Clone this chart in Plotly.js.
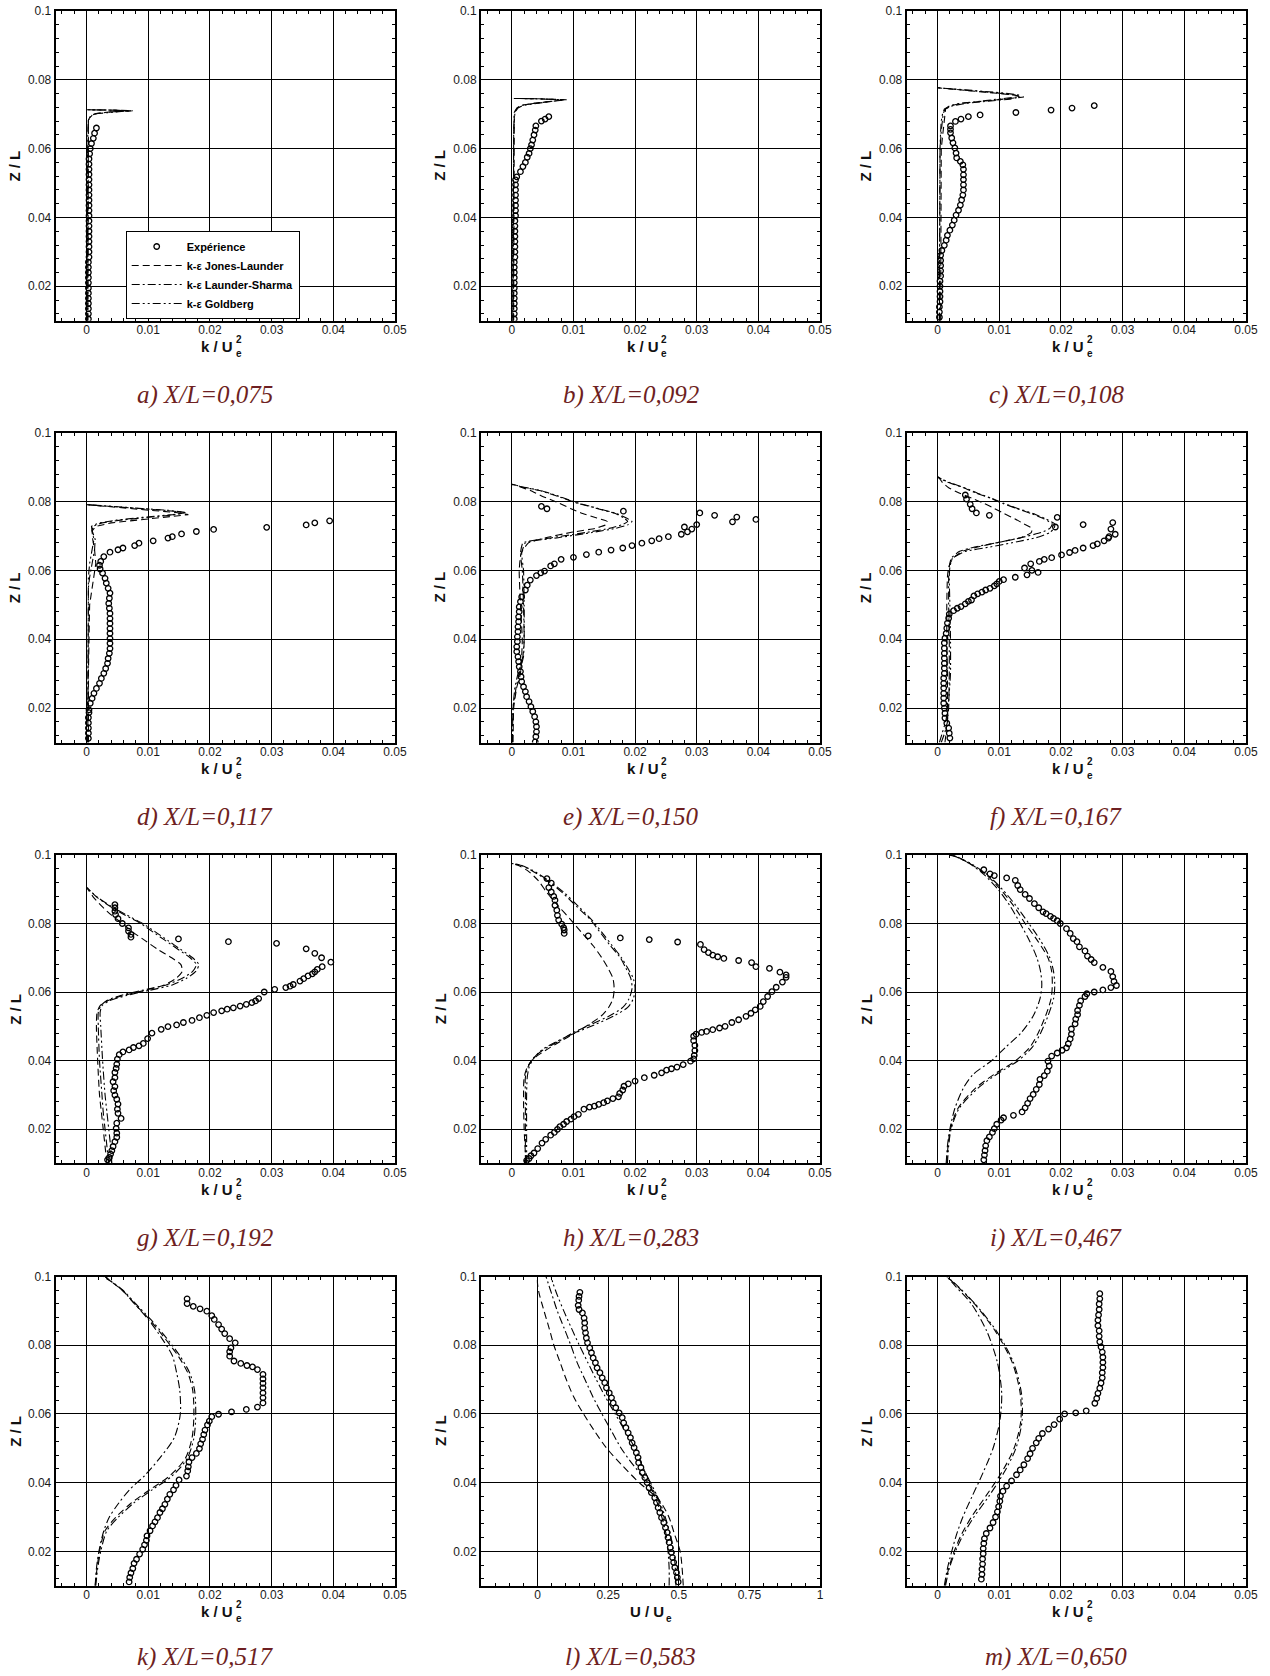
<!DOCTYPE html>
<html><head><meta charset="utf-8">
<script src="https://cdn.plot.ly/plotly-3.0.1.min.js"></script>
<style>html,body{margin:0;padding:0;background:#fff;}#chart{width:1270px;height:1676px;}</style>
</head><body><div id="chart"></div>
<script>
// ---------------- DATA ----------------
// Panel a  X/L=0,075
const zExpA=[0.0105,0.012,0.0135,0.015,0.0165,0.018,0.0195,0.021,0.0225,0.024,0.0255,0.027,0.0285,0.030,0.0315,0.033,0.0345,0.036,0.0375,0.039,0.0405,0.042,0.0435,0.045,0.0465,0.048,0.0495,0.051,0.0525,0.054,0.0555,0.057,0.0585,0.060,0.0615,0.063,0.0645,0.066];
const kExpA=[0.0003,0.0003,0.0003,0.0003,0.0003,0.0003,0.0003,0.0003,0.0003,0.0003,0.0003,0.0003,0.0004,0.0004,0.0004,0.0004,0.0004,0.0004,0.0004,0.0004,0.0004,0.0004,0.0004,0.0004,0.0004,0.0004,0.0004,0.0004,0.0004,0.0004,0.0004,0.0004,0.0005,0.0006,0.0008,0.0011,0.0013,0.0016];
const zModA=[0.01,0.03,0.05,0.065,0.0683,0.0697,0.0702,0.0707,0.0710,0.0712,0.0713];
const kJLA=[0.0002,0.0002,0.0002,0.0002,0.0003,0.0007,0.0015,0.004,0.0075,0.004,0];
const kLSA=[0.0002,0.0002,0.0002,0.0002,0.0003,0.0008,0.0016,0.0042,0.0072,0.004,0];
const kGBA=[0.0001,0.0001,0.0001,0.0002,0.0003,0.0009,0.0018,0.0045,0.0070,0.0035,0];

// Panel b  X/L=0,092
const zExpB=[0.0105,0.012,0.0135,0.015,0.0165,0.018,0.0195,0.021,0.0225,0.024,0.0255,0.027,0.0285,0.030,0.0315,0.033,0.0345,0.036,0.0375,0.039,0.0405,0.042,0.0435,0.045,0.0465,0.048,0.0495,0.0509,0.0518,0.0533,0.0548,0.056,0.0575,0.0586,0.060,0.0611,0.0625,0.064,0.0654,0.0666,0.068,0.0686,0.0693];
const kExpB=[0.0004,0.0004,0.0004,0.0004,0.0004,0.0004,0.0004,0.0004,0.0004,0.0004,0.0004,0.0004,0.0005,0.0005,0.0005,0.0005,0.0005,0.0005,0.0005,0.0005,0.0006,0.0006,0.0006,0.0006,0.0006,0.0006,0.0006,0.0006,0.0008,0.0014,0.0018,0.0022,0.0025,0.0028,0.003,0.0032,0.0034,0.0036,0.0038,0.0039,0.0048,0.0054,0.006];
const zModB=[0.01,0.03,0.05,0.065,0.0705,0.0718,0.0726,0.0733,0.0738,0.0742,0.0745,0.0746];
const kJLB=[0.0003,0.0003,0.0003,0.0003,0.0004,0.0008,0.0015,0.004,0.007,0.0089,0.004,0];
const kLSB=[0.0002,0.0002,0.0002,0.0003,0.0004,0.0009,0.0017,0.0042,0.0068,0.0085,0.004,0];
const kGBB=[0.0002,0.0002,0.0002,0.0003,0.0005,0.001,0.0019,0.0044,0.0066,0.0082,0.0035,0];

// Panel c  X/L=0,108
const zExpC=[0.011,0.0125,0.014,0.0155,0.017,0.0185,0.02,0.0215,0.023,0.0245,0.026,0.0275,0.029,0.0304,0.0319,0.0334,0.0348,0.0363,0.0378,0.0392,0.0407,0.0421,0.0436,0.0451,0.0465,0.048,0.0495,0.051,0.0524,0.054,0.0553,0.0563,0.0573,0.0587,0.0602,0.0617,0.0631,0.0646,0.0656,0.0666,0.0679,0.0686,0.0693,0.0698,0.0705,0.0712,0.0718,0.0725];
const kExpC=[0.0003,0.0003,0.0003,0.0004,0.0004,0.0004,0.0004,0.0004,0.0005,0.0005,0.0005,0.0005,0.0005,0.0007,0.0011,0.0014,0.0016,0.002,0.0024,0.0027,0.003,0.0034,0.0037,0.0039,0.0041,0.0042,0.0042,0.0042,0.0042,0.0042,0.0041,0.0037,0.0031,0.003,0.0028,0.0025,0.0023,0.0021,0.0021,0.0021,0.0029,0.0038,0.005,0.0069,0.0127,0.0184,0.0218,0.0254];
const zModC=[0.01,0.03,0.05,0.06,0.065,0.068,0.070,0.0715,0.0725,0.0732,0.0738,0.0744,0.0750,0.0756,0.0762,0.0768,0.0772,0.0775,0.0777];
const kJLC=[0.0005,0.0005,0.0005,0.0006,0.0009,0.0011,0.0012,0.0013,0.0022,0.004,0.0075,0.011,0.014,0.0125,0.009,0.0055,0.003,0.001,0];
const kLSC=[0.0003,0.0003,0.0003,0.0004,0.0006,0.0008,0.0009,0.0012,0.0025,0.0048,0.0085,0.0118,0.0133,0.0125,0.0095,0.006,0.0035,0.0012,0];
const kGBC=[0.0003,0.0003,0.0003,0.0004,0.0005,0.0006,0.0008,0.0011,0.002,0.0038,0.007,0.0105,0.0128,0.0132,0.0105,0.0065,0.0038,0.0013,0];

// Panel d  X/L=0,117
const zExpD=[0.0112,0.0127,0.0142,0.0157,0.0172,0.0187,0.0195,0.0214,0.0228,0.0243,0.0257,0.0272,0.0286,0.0301,0.0315,0.033,0.0344,0.0359,0.0373,0.0388,0.0402,0.0417,0.0431,0.0446,0.046,0.0475,0.049,0.0504,0.0519,0.0534,0.0548,0.0563,0.0577,0.0592,0.0604,0.0615,0.0626,0.064,0.0653,0.066,0.0665,0.0672,0.0679,0.0686,0.0694,0.0698,0.0706,0.0713,0.0719,0.0725,0.0732,0.0738,0.0744];
const kExpD=[0.0003,0.0003,0.0003,0.0003,0.0003,0.0004,0.0004,0.0006,0.0009,0.0012,0.0016,0.0021,0.0024,0.0028,0.0031,0.0034,0.0035,0.0037,0.0038,0.0038,0.0038,0.0038,0.0038,0.0038,0.0038,0.0038,0.0037,0.0036,0.0037,0.0038,0.0035,0.0032,0.0030,0.0026,0.0022,0.0021,0.0023,0.0028,0.0038,0.0051,0.0059,0.0078,0.0085,0.0108,0.0132,0.0139,0.0154,0.0178,0.0206,0.0292,0.0356,0.037,0.0394];
const zModD=[0.01,0.03,0.05,0.055,0.058,0.062,0.066,0.069,0.0715,0.0728,0.0738,0.0746,0.0754,0.0762,0.0768,0.0774,0.078,0.0786,0.0789,0.0791];
const kJLD=[0.0003,0.0003,0.0005,0.0009,0.0012,0.0015,0.0013,0.001,0.0009,0.0015,0.004,0.008,0.0125,0.0165,0.0145,0.011,0.0075,0.0035,0.0012,0];
const kLSD=[0.0002,0.0002,0.0003,0.0003,0.0005,0.0009,0.0013,0.0014,0.0009,0.001,0.0025,0.0055,0.01,0.0145,0.016,0.013,0.0085,0.004,0.0013,0];
const kGBD=[0.0002,0.0002,0.0002,0.0003,0.0003,0.0005,0.0009,0.0012,0.0009,0.0008,0.002,0.0048,0.009,0.014,0.0162,0.0135,0.009,0.0042,0.0014,0];

// Panel e  X/L=0,150
const zExpE=[0.0102,0.0117,0.0131,0.0146,0.016,0.0175,0.019,0.0204,0.0219,0.0233,0.0248,0.0262,0.0277,0.0291,0.0306,0.032,0.0335,0.0349,0.0364,0.0378,0.0393,0.0407,0.0422,0.0436,0.0451,0.0465,0.048,0.0494,0.0509,0.0523,0.0543,0.0557,0.0572,0.0585,0.0593,0.0598,0.0613,0.0619,0.0632,0.0638,0.0646,0.0653,0.0659,0.0665,0.0672,0.0679,0.0686,0.0692,0.0698,0.0705,0.0712,0.072,0.0726,0.0733,0.0741,0.0748,0.0755,0.076,0.0767,0.0772,0.0779,0.0786];
const kExpE=[0.0038,0.0039,0.004,0.004,0.0039,0.0037,0.0034,0.0031,0.0028,0.0024,0.0022,0.0019,0.0016,0.0015,0.0014,0.0012,0.0011,0.001,0.0008,0.0008,0.0009,0.0009,0.001,0.001,0.0011,0.0011,0.0012,0.0012,0.0014,0.0016,0.0022,0.0025,0.003,0.004,0.0047,0.0053,0.0063,0.0069,0.008,0.01,0.0121,0.0141,0.0161,0.018,0.0195,0.0211,0.0227,0.0239,0.0254,0.0275,0.0285,0.0292,0.028,0.03,0.0358,0.0396,0.0365,0.0329,0.0305,0.0181,0.0057,0.0048];
const zModE=[0.01,0.02,0.026,0.03,0.035,0.04,0.05,0.06,0.065,0.068,0.0695,0.071,0.0722,0.0732,0.0742,0.0752,0.0765,0.078,0.0797,0.0815,0.0832,0.0843,0.0849,0.085];
const kJLE=[0.0002,0.0003,0.0008,0.0014,0.0016,0.0017,0.0014,0.0012,0.0015,0.0027,0.0055,0.0095,0.0135,0.0152,0.0155,0.0138,0.0115,0.0095,0.0075,0.005,0.003,0.0013,0.0004,0];
const kLSE=[0.0001,0.0002,0.0007,0.0012,0.0019,0.002,0.0019,0.0017,0.0014,0.0018,0.0065,0.012,0.0158,0.0178,0.0188,0.0182,0.0168,0.0138,0.0103,0.0075,0.0045,0.0015,0.0004,0];
const kGBE=[0.0001,0.0002,0.0005,0.001,0.0018,0.002,0.002,0.0019,0.0016,0.0022,0.0075,0.013,0.0168,0.0188,0.0195,0.0186,0.017,0.014,0.0105,0.0077,0.0047,0.0016,0.0004,0];

// Panel f  X/L=0,167
const zExpF=[0.0113,0.0127,0.0142,0.0156,0.0171,0.0185,0.02,0.0214,0.0229,0.0243,0.0258,0.0272,0.0287,0.0301,0.0316,0.033,0.0345,0.0359,0.0374,0.0389,0.0403,0.0417,0.0432,0.0447,0.0461,0.0473,0.0483,0.049,0.0495,0.0503,0.051,0.0514,0.0526,0.0532,0.0537,0.0543,0.0548,0.0555,0.0561,0.0568,0.0573,0.058,0.0587,0.0594,0.06,0.0607,0.0619,0.0626,0.0632,0.0637,0.0645,0.0652,0.0658,0.0665,0.0672,0.0677,0.0686,0.0694,0.0698,0.0705,0.072,0.0726,0.0733,0.0739,0.0754,0.076,0.0767,0.0779,0.0792,0.0807,0.0819];
const kExpF=[0.002,0.0019,0.0018,0.0015,0.0012,0.0012,0.0011,0.001,0.001,0.001,0.001,0.001,0.001,0.0011,0.0011,0.0011,0.0011,0.0011,0.0011,0.0011,0.0012,0.0014,0.0015,0.0016,0.0018,0.0019,0.0026,0.0032,0.0038,0.0045,0.005,0.0055,0.0059,0.0065,0.0072,0.0078,0.0085,0.0092,0.0096,0.01,0.0107,0.0126,0.0145,0.0163,0.0153,0.0141,0.0151,0.0165,0.0173,0.0185,0.0201,0.0214,0.0223,0.0236,0.0252,0.0259,0.027,0.0277,0.0278,0.0288,0.0281,0.0191,0.0236,0.0284,0.0194,0.0084,0.0063,0.0056,0.0053,0.0047,0.0045];
const zModF=[0.01,0.013,0.016,0.02,0.03,0.04,0.05,0.058,0.061,0.0635,0.0655,0.0668,0.068,0.0695,0.071,0.0722,0.0735,0.075,0.0765,0.078,0.0795,0.081,0.0825,0.084,0.0855,0.0865,0.087,0.0872];
const kJLF=[0.0012,0.0014,0.0015,0.0016,0.0016,0.0015,0.0015,0.0016,0.0018,0.0025,0.004,0.0065,0.0095,0.0135,0.0152,0.0153,0.014,0.0125,0.0108,0.0092,0.0075,0.0055,0.0035,0.0018,0.0008,0.0004,0.0001,0];
const kLSF=[0.0006,0.0012,0.0016,0.0018,0.0019,0.0019,0.0018,0.0018,0.0019,0.0022,0.0035,0.006,0.0095,0.0135,0.0168,0.0182,0.0186,0.0172,0.0152,0.0128,0.0105,0.0085,0.0062,0.0042,0.0018,0.0006,0.0002,0];
const kGBF=[0.0003,0.0008,0.0013,0.0017,0.0021,0.0021,0.002,0.0019,0.002,0.0024,0.0045,0.0085,0.012,0.016,0.0182,0.0189,0.019,0.0175,0.0155,0.013,0.0107,0.0087,0.0064,0.0044,0.002,0.0007,0.0002,0];

// Panel g  X/L=0,192
const zExpG=[0.011,0.0117,0.0127,0.0137,0.0149,0.0163,0.0176,0.0188,0.0202,0.0217,0.0231,0.0246,0.0258,0.0273,0.0287,0.0299,0.0312,0.0324,0.0338,0.035,0.0365,0.0377,0.0389,0.0404,0.0417,0.0425,0.0431,0.0438,0.0443,0.045,0.0464,0.048,0.0491,0.0499,0.0504,0.0511,0.0517,0.0525,0.0532,0.054,0.0545,0.055,0.0554,0.0559,0.0564,0.0569,0.0574,0.0581,0.06,0.0608,0.0613,0.0617,0.0622,0.0632,0.0639,0.0647,0.0653,0.0659,0.0666,0.0674,0.0687,0.07,0.0713,0.0726,0.0742,0.0747,0.0755,0.076,0.0768,0.0778,0.0787,0.08,0.0814,0.0826,0.0836,0.0846,0.0855];
const kExpG=[0.0034,0.0037,0.0039,0.0041,0.0043,0.0046,0.0049,0.0049,0.0048,0.0049,0.0056,0.0051,0.005,0.0051,0.0049,0.0046,0.0044,0.0046,0.0043,0.0046,0.0046,0.0048,0.0049,0.005,0.0053,0.0059,0.0069,0.0076,0.0085,0.0092,0.0099,0.0106,0.0121,0.0132,0.0146,0.0157,0.0171,0.0183,0.0195,0.0206,0.0219,0.0228,0.0238,0.0249,0.0259,0.0268,0.0274,0.0279,0.0288,0.0305,0.0323,0.033,0.0335,0.0346,0.0352,0.0359,0.0366,0.037,0.0374,0.0382,0.0396,0.0381,0.037,0.0356,0.0308,0.023,0.0149,0.0072,0.0072,0.0068,0.0068,0.0058,0.0051,0.0047,0.0046,0.0046,0.0046];
const zModG=[0.01,0.015,0.02,0.025,0.03,0.04,0.05,0.054,0.056,0.0575,0.059,0.0605,0.062,0.064,0.066,0.068,0.07,0.0725,0.075,0.0775,0.08,0.0825,0.085,0.0875,0.0895,0.0903,0.0905];
const kJLG=[0.0033,0.003,0.0027,0.0024,0.0021,0.0018,0.0016,0.0017,0.0022,0.0035,0.006,0.0095,0.0125,0.0145,0.0155,0.0153,0.0138,0.0115,0.0095,0.0075,0.0058,0.004,0.0025,0.0012,0.0004,0.0001,0];
const kLSG=[0.0036,0.0033,0.003,0.0027,0.0025,0.0021,0.0019,0.0019,0.0023,0.0033,0.0055,0.009,0.0128,0.0155,0.0172,0.0178,0.0168,0.0148,0.0128,0.0108,0.0088,0.0062,0.0038,0.0018,0.0006,0.0002,0];
const kGBG=[0.0041,0.0039,0.0036,0.0033,0.003,0.0026,0.0023,0.0022,0.0025,0.0038,0.0065,0.0102,0.0138,0.0162,0.0177,0.0182,0.0172,0.0152,0.0132,0.0112,0.0091,0.0065,0.004,0.0019,0.0006,0.0002,0];

// Panel h  X/L=0,283
const zExpH=[0.0108,0.0114,0.0122,0.013,0.0143,0.0159,0.017,0.0182,0.019,0.0199,0.0207,0.0214,0.0222,0.0229,0.0236,0.0243,0.0258,0.0264,0.0267,0.0272,0.0277,0.0282,0.0289,0.0294,0.0304,0.0314,0.0325,0.0332,0.034,0.035,0.0357,0.0364,0.0372,0.0376,0.0381,0.0388,0.0398,0.0405,0.0415,0.0429,0.0444,0.0458,0.0471,0.0477,0.0482,0.0485,0.049,0.0495,0.05,0.0511,0.0519,0.0529,0.0538,0.0548,0.0558,0.0572,0.0587,0.0601,0.0614,0.0629,0.0643,0.065,0.0658,0.0669,0.0674,0.0686,0.0692,0.0698,0.0703,0.0708,0.0715,0.0724,0.0739,0.0746,0.0753,0.0758,0.0764,0.0771,0.0781,0.0788,0.0798,0.081,0.0824,0.0839,0.0853,0.0868,0.0879,0.0892,0.0905,0.0918,0.0931];
const kExpH=[0.0024,0.0028,0.0031,0.0036,0.0042,0.0049,0.0055,0.0063,0.0069,0.0074,0.0078,0.0084,0.0089,0.0096,0.0101,0.0108,0.0117,0.0126,0.0134,0.0141,0.0149,0.0155,0.0164,0.0173,0.0175,0.018,0.0182,0.0189,0.02,0.0215,0.0231,0.0243,0.0251,0.0259,0.0268,0.0278,0.029,0.0295,0.0296,0.0297,0.0297,0.0295,0.0295,0.0299,0.0308,0.0316,0.0326,0.0337,0.0346,0.0357,0.0368,0.038,0.0388,0.0395,0.0403,0.0408,0.0415,0.0422,0.0429,0.0439,0.0445,0.0445,0.0435,0.0418,0.0396,0.0389,0.0368,0.0344,0.0334,0.0326,0.0319,0.0312,0.0306,0.0269,0.0223,0.0176,0.0124,0.0085,0.0085,0.0084,0.0081,0.0076,0.0074,0.0073,0.007,0.007,0.0068,0.0064,0.006,0.0064,0.0057];
const zModH=[0.01,0.02,0.03,0.035,0.038,0.0405,0.043,0.0455,0.048,0.0505,0.053,0.0555,0.058,0.061,0.064,0.067,0.07,0.0735,0.077,0.081,0.085,0.089,0.0925,0.0955,0.097,0.0975];
const kJLH=[0.0023,0.002,0.0019,0.002,0.0025,0.0035,0.0055,0.0078,0.0102,0.0125,0.0145,0.0157,0.0164,0.0166,0.0164,0.0156,0.0146,0.0132,0.0115,0.0096,0.0076,0.0057,0.0043,0.0025,0.001,0];
const kLSH=[0.0022,0.0022,0.0022,0.0022,0.0026,0.0034,0.005,0.0075,0.0098,0.0128,0.0158,0.018,0.019,0.0195,0.0193,0.0185,0.0176,0.016,0.0145,0.0128,0.0105,0.0082,0.0058,0.0032,0.0014,0];
const kGBH=[0.0024,0.0024,0.0024,0.0025,0.0028,0.0035,0.0048,0.0072,0.0102,0.0135,0.0165,0.0188,0.0197,0.02,0.0197,0.0188,0.0178,0.0163,0.0148,0.013,0.0108,0.0085,0.006,0.0034,0.0015,0];

// Panel i  X/L=0,467
const zExpI=[0.011,0.0124,0.0137,0.0151,0.0166,0.0177,0.019,0.0201,0.0214,0.0226,0.0233,0.024,0.025,0.0262,0.0275,0.0289,0.0301,0.0316,0.033,0.0345,0.0356,0.0369,0.0384,0.0398,0.0413,0.0422,0.043,0.0437,0.0449,0.0463,0.0477,0.0492,0.0507,0.0521,0.0534,0.0546,0.0561,0.0574,0.0587,0.0595,0.06,0.0606,0.0613,0.0619,0.0631,0.0645,0.066,0.0672,0.0686,0.0695,0.0705,0.072,0.0732,0.0747,0.0756,0.0771,0.0785,0.08,0.0808,0.0815,0.0821,0.0829,0.0834,0.0846,0.0858,0.0873,0.0885,0.0899,0.0911,0.0926,0.0933,0.094,0.0945,0.0957];
const kExpI=[0.0075,0.0076,0.0077,0.0078,0.008,0.0084,0.0089,0.0092,0.0096,0.0103,0.0107,0.0123,0.0137,0.0142,0.0146,0.015,0.0155,0.016,0.0165,0.0166,0.0173,0.0178,0.0181,0.0179,0.0185,0.0194,0.0202,0.0209,0.0212,0.0215,0.0217,0.0217,0.0223,0.0224,0.0227,0.0227,0.023,0.0232,0.0239,0.0242,0.0254,0.0268,0.0281,0.029,0.0286,0.0284,0.0281,0.0268,0.0254,0.0249,0.0243,0.0239,0.023,0.0226,0.022,0.0215,0.0209,0.0199,0.0194,0.0188,0.0183,0.0176,0.0171,0.0164,0.0157,0.0149,0.0142,0.0134,0.013,0.0126,0.0112,0.0092,0.0085,0.0075];
const zModI=[0.01,0.015,0.02,0.026,0.032,0.036,0.04,0.044,0.048,0.053,0.058,0.062,0.066,0.07,0.075,0.08,0.085,0.09,0.0945,0.0975,0.0995,0.1];
const kJLI=[0.0015,0.0017,0.0021,0.0033,0.0062,0.0092,0.0127,0.015,0.0163,0.0175,0.0184,0.0186,0.0185,0.0179,0.0162,0.0142,0.0124,0.0102,0.0077,0.0052,0.003,0.0018];
const kLSI=[0.0014,0.0016,0.002,0.0028,0.0042,0.0058,0.0088,0.0111,0.0135,0.0155,0.0166,0.0169,0.0167,0.0161,0.0149,0.0134,0.0118,0.0098,0.0074,0.0052,0.003,0.002];
const kGBI=[0.0016,0.0018,0.0022,0.0035,0.0066,0.0096,0.0131,0.0154,0.0167,0.0179,0.0188,0.019,0.0188,0.0182,0.0167,0.0148,0.0128,0.0105,0.0079,0.0054,0.0031,0.002];

// Panel k  X/L=0,517
const zExpK=[0.0111,0.0124,0.0137,0.015,0.0165,0.0177,0.0192,0.0206,0.0219,0.0232,0.0245,0.026,0.0274,0.0286,0.0298,0.0313,0.0324,0.0337,0.0352,0.0366,0.0379,0.0392,0.0408,0.0419,0.0434,0.0446,0.046,0.0473,0.0485,0.0499,0.0513,0.0526,0.054,0.0553,0.0568,0.0579,0.0592,0.0599,0.0606,0.0613,0.062,0.0632,0.0647,0.0661,0.0676,0.0689,0.0702,0.0715,0.0729,0.0737,0.0741,0.0747,0.0754,0.0768,0.0781,0.0792,0.0807,0.0819,0.0834,0.0847,0.086,0.0875,0.0886,0.0899,0.0906,0.0913,0.0921,0.0935];
const kExpK=[0.0069,0.007,0.0072,0.0075,0.0077,0.0081,0.0086,0.0091,0.0094,0.0097,0.0098,0.0103,0.0107,0.0111,0.0115,0.0119,0.0123,0.0127,0.0131,0.0135,0.0141,0.0145,0.015,0.0162,0.0164,0.0165,0.0166,0.0171,0.0178,0.0183,0.0185,0.0188,0.019,0.0192,0.0196,0.0199,0.0203,0.0214,0.0235,0.0259,0.0277,0.0286,0.0286,0.0286,0.0286,0.0286,0.0286,0.0286,0.0277,0.0269,0.026,0.025,0.0239,0.0232,0.0232,0.0234,0.0241,0.0232,0.0224,0.0219,0.0214,0.0207,0.0203,0.0195,0.0184,0.0173,0.0163,0.0163];
const zModK=[0.01,0.015,0.02,0.026,0.03,0.034,0.038,0.042,0.047,0.053,0.06,0.067,0.072,0.077,0.082,0.0875,0.092,0.096,0.0985,0.1];
const kJLK=[0.0014,0.0017,0.0021,0.003,0.0048,0.0072,0.0103,0.0135,0.016,0.0171,0.0174,0.0172,0.0164,0.0148,0.0127,0.0102,0.0078,0.0058,0.004,0.003];
const kLSK=[0.0014,0.0016,0.002,0.0028,0.0037,0.0052,0.007,0.0094,0.0118,0.0142,0.0152,0.0151,0.0146,0.0139,0.0122,0.01,0.0078,0.0058,0.004,0.0027];
const kGBK=[0.0015,0.0018,0.0023,0.0033,0.0052,0.0076,0.0107,0.0139,0.0163,0.0174,0.0177,0.0175,0.0167,0.0151,0.013,0.0104,0.008,0.0059,0.0041,0.003];

// Panel l  X/L=0,583  (U/Ue)
const zExpL=[0.0111,0.0124,0.0138,0.0153,0.0168,0.0182,0.0197,0.0211,0.0226,0.024,0.0255,0.0269,0.0284,0.0298,0.0313,0.0327,0.0342,0.0356,0.0371,0.0385,0.04,0.0415,0.0429,0.0444,0.0458,0.0473,0.0487,0.0502,0.0516,0.0531,0.0545,0.056,0.0574,0.0589,0.0603,0.0618,0.0632,0.0647,0.0661,0.0676,0.0691,0.0705,0.072,0.0734,0.0749,0.0763,0.0778,0.0792,0.0807,0.0821,0.0836,0.085,0.0865,0.0879,0.0894,0.0904,0.0916,0.0931,0.0942,0.0954];
const uExpL=[0.498,0.495,0.492,0.486,0.482,0.478,0.474,0.47,0.466,0.462,0.459,0.453,0.447,0.439,0.433,0.427,0.421,0.415,0.403,0.395,0.388,0.38,0.371,0.366,0.358,0.356,0.35,0.342,0.335,0.329,0.321,0.313,0.305,0.3,0.289,0.277,0.268,0.262,0.254,0.244,0.238,0.229,0.221,0.211,0.205,0.197,0.191,0.185,0.177,0.173,0.17,0.167,0.167,0.165,0.159,0.147,0.144,0.146,0.147,0.15];
const zModL=[0.01,0.015,0.02,0.025,0.03,0.035,0.04,0.045,0.05,0.055,0.06,0.065,0.07,0.075,0.08,0.085,0.09,0.095,0.098,0.1];
const uJLL=[0.516,0.512,0.505,0.485,0.465,0.43,0.36,0.3,0.245,0.202,0.163,0.128,0.102,0.08,0.058,0.041,0.023,0.006,0.0,0.0];
const uLSL=[0.466,0.466,0.462,0.455,0.44,0.42,0.39,0.34,0.296,0.262,0.228,0.196,0.168,0.14,0.118,0.094,0.07,0.05,0.038,0.03];
const uGBL=[0.49,0.488,0.482,0.47,0.452,0.43,0.4,0.37,0.345,0.31,0.275,0.24,0.208,0.178,0.148,0.12,0.093,0.068,0.055,0.048];

// Panel m  X/L=0,650
const zExpM=[0.0119,0.0133,0.0148,0.0163,0.0178,0.0193,0.0208,0.0223,0.0237,0.0252,0.0268,0.0284,0.03,0.0315,0.033,0.0346,0.0361,0.0375,0.039,0.0405,0.0423,0.0437,0.0452,0.047,0.0484,0.05,0.0516,0.0529,0.0543,0.0556,0.0569,0.0585,0.06,0.0603,0.0609,0.0631,0.0645,0.066,0.0675,0.069,0.0705,0.072,0.0735,0.075,0.0765,0.078,0.0795,0.081,0.0826,0.0842,0.0857,0.0873,0.0888,0.0904,0.092,0.0935,0.095];
const kExpM=[0.0071,0.0072,0.0072,0.0073,0.0073,0.0074,0.0074,0.0075,0.0076,0.0079,0.0085,0.009,0.0094,0.0097,0.0099,0.0101,0.0102,0.0106,0.0112,0.012,0.0128,0.0134,0.014,0.0146,0.015,0.0154,0.016,0.0164,0.017,0.018,0.0189,0.0198,0.0206,0.0224,0.0241,0.0255,0.0258,0.026,0.0263,0.0265,0.0267,0.0267,0.0268,0.0268,0.0268,0.0267,0.0265,0.0263,0.0262,0.0262,0.026,0.026,0.0261,0.0262,0.0262,0.0263,0.0263];
const zModM=[0.01,0.015,0.02,0.025,0.03,0.036,0.043,0.05,0.058,0.066,0.075,0.084,0.092,0.097,0.1];
const kJLM=[0.0012,0.0018,0.0027,0.0039,0.0055,0.0078,0.0104,0.0124,0.0135,0.0134,0.0121,0.0094,0.006,0.0033,0.0015];
const kLSM=[0.0011,0.0016,0.0023,0.0031,0.0041,0.0056,0.0074,0.009,0.0101,0.0104,0.0097,0.008,0.0055,0.003,0.0015];
const kGBM=[0.0013,0.0019,0.0029,0.0042,0.0059,0.0083,0.0108,0.0127,0.0137,0.0136,0.0123,0.0096,0.0061,0.0034,0.0015];

const captions=['a) X/L=0,075','b) X/L=0,092','c) X/L=0,108','d) X/L=0,117','e) X/L=0,150','f) X/L=0,167','g) X/L=0,192','h) X/L=0,283','i) X/L=0,467','k) X/L=0,517','l) X/L=0,583','m) X/L=0,650'];
const seriesNames=['Expérience','k-ε Jones-Launder','k-ε Launder-Sharma','k-ε Goldberg'];

// ---------------- BUILD ----------------
const W=1270,H=1676;
const colX=[[55.7,395],[481,820],[906.7,1246]];
const rowY=[[11,320.7],[432.7,742.5],[855,1163.3],[1276.5,1585.7]];
const P=[
 [zExpA,kExpA,zModA,kJLA,kLSA,kGBA,0],
 [zExpB,kExpB,zModB,kJLB,kLSB,kGBB,0],
 [zExpC,kExpC,zModC,kJLC,kLSC,kGBC,0],
 [zExpD,kExpD,zModD,kJLD,kLSD,kGBD,0],
 [zExpE,kExpE,zModE,kJLE,kLSE,kGBE,0.4],
 [zExpF,kExpF,zModF,kJLF,kLSF,kGBF,0.4],
 [zExpG,kExpG,zModG,kJLG,kLSG,kGBG,0.6],
 [zExpH,kExpH,zModH,kJLH,kLSH,kGBH,0.8],
 [zExpI,kExpI,zModI,kJLI,kLSI,kGBI,0.8],
 [zExpK,kExpK,zModK,kJLK,kLSK,kGBK,0.8],
 [zExpL,uExpL,zModL,uJLL,uLSL,uGBL,0.8],
 [zExpM,kExpM,zModM,kJLM,kLSM,kGBM,0.8]
];
const dashes=['7px,4px','8px,3px,2px,3px','8px,3px,2px,3px,2px,3px'];
const FONT='Liberation Sans, Arial, sans-serif';
const traces=[];const layout={width:W,height:H,margin:{l:0,r:0,t:0,b:0},paper_bgcolor:'#fff',plot_bgcolor:'#fff',
 showlegend:true,
 legend:{x:125.7/W,y:1-231/H,xanchor:'left',yanchor:'top',bgcolor:'#fff',bordercolor:'#000',borderwidth:1,
  font:{family:FONT,size:11,color:'#000',weight:'bold'},tracegroupgap:0,itemwidth:50},
 annotations:[]};
P.forEach((p,i)=>{
 const n=i+1, xa='x'+(n>1?n:''), ya='y'+(n>1?n:'');
 const col=i%3,row=Math.floor(i/3);
 const [x0,x1]=colX[col],[y0,y1]=rowY[row];
 const isU=(i===10);
 traces.push({x:p[1],y:p[0],xaxis:xa,yaxis:ya,mode:'markers',name:seriesNames[0],showlegend:i===0,
   marker:{symbol:'circle-open',size:5.5,color:'#000',line:{width:1.3,color:'#000'}}});
 for(let m=0;m<3;m++){
   traces.push({x:p[3+m],y:p[2],xaxis:xa,yaxis:ya,mode:'lines',name:seriesNames[m+1],showlegend:i===0,
     line:{color:'#000',width:1.1,dash:dashes[m],shape:p[6]>0?'spline':'linear',smoothing:p[6]||0}});
 }
 const common={ticks:'inside',ticklen:6,tickwidth:1,tickcolor:'#000',showline:true,linecolor:'#000',linewidth:2,
   mirror:'allticks',showgrid:true,gridcolor:'#000',gridwidth:1,zeroline:false,fixedrange:true,
   tickfont:{family:FONT,size:12,color:'#1a1a1a'}};
 layout['xaxis'+(n>1?n:'')]=Object.assign({},common,{domain:[x0/W,x1/W],anchor:ya,
   range:isU?[-0.2,1]:[-0.005,0.05],tick0:0,dtick:isU?0.25:0.01,ticklabelstandoff:-3,
   minor:{ticks:'inside',ticklen:3,tickcolor:'#000',tick0:0,dtick:isU?0.05:0.002,showgrid:false}});
 layout['yaxis'+(n>1?n:'')]=Object.assign({},common,{domain:[1-y1/H,1-y0/H],anchor:xa,
   range:[0.01,0.1],tick0:0,dtick:0.02,
   minor:{ticks:'inside',ticklen:3,tickcolor:'#000',tick0:0,dtick:0.004,showgrid:false}});
 const cx=(x0+x1)/2, cy=(y0+y1)/2;
 // caption
 layout.annotations.push({xref:'paper',yref:'paper',x:(cx-20)/W,y:1-(y1+(row===3?71:74.5))/H,xanchor:'center',yanchor:'middle',
   showarrow:false,text:captions[i],font:{family:'Liberation Serif, Times New Roman, serif',size:25,color:'#6e1f22',style:'italic'}});
 // y title
 layout.annotations.push({xref:'paper',yref:'paper',x:(x0-41)/W,y:1-cy/H,xanchor:'center',yanchor:'middle',textangle:-90,
   showarrow:false,text:'Z / L',font:{family:FONT,size:15,color:'#111',weight:'bold'}});
 // x title
 const tb=y1+26;
 layout.annotations.push({xref:'paper',yref:'paper',x:(cx+(isU?15:10))/W,y:1-tb/H,xanchor:'right',yanchor:'middle',
   showarrow:false,text:isU?'U / U':'k / U',font:{family:FONT,size:15,color:'#111',weight:'bold'}});
 layout.annotations.push({xref:'paper',yref:'paper',x:(cx+(isU?13.5:8.5))/W,y:1-(tb+7)/H,xanchor:'left',yanchor:'middle',
   showarrow:false,text:'e',font:{family:FONT,size:10,color:'#111',weight:'bold'}});
 if(!isU) layout.annotations.push({xref:'paper',yref:'paper',x:(cx+8.5)/W,y:1-(tb-7)/H,xanchor:'left',yanchor:'middle',
   showarrow:false,text:'2',font:{family:FONT,size:10,color:'#111',weight:'bold'}});
});
Plotly.newPlot('chart',traces,layout,{staticPlot:true,displayModeBar:false});
</script></body></html>
